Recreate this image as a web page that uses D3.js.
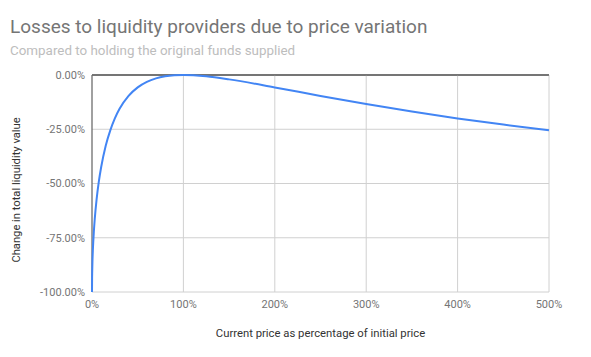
<!DOCTYPE html>
<html><head><meta charset="utf-8">
<script src="https://cdn.jsdelivr.net/npm/d3@7"></script>
<style>body{margin:0;background:#fff;}svg{display:block;font-family:Roboto,Arial,sans-serif;}</style>
</head><body>
<svg id="c" width="591" height="357"></svg>
<script>
const title = "Losses to liquidity providers due to price variation";
const subtitle = "Compared to holding the original funds supplied";
const xTitle = "Current price as percentage of initial price";
const yTitle = "Change in total liquidity value";
const xTicks = [0, 100, 200, 300, 400, 500];
const yTicks = [0, -25, -50, -75, -100];
const priceRatio = [0, 0.1, 0.2, 0.5, 1, 2, 3, 5, 7.5, 10, 15, 20, 25, 30, 40, 50, 60, 70, 80, 90, 100, 125, 150, 200, 250, 300, 350, 400, 450, 500];
const valueChange = [-100, -93.7, -91.1, -85.9, -80.2, -72.3, -66.4, -57.4, -49.0, -42.5, -32.6, -25.5, -20.0, -15.7, -9.65, -5.72, -3.18, -1.57, -0.62, -0.14, 0, -0.62, -2.02, -5.72, -9.65, -13.4, -16.85, -20.0, -22.86, -25.46];

const svg = d3.select("#c");
const m = {l: 92, r: 549, t: 75, b: 292};
const x = d3.scaleLinear().domain([0, 500]).range([m.l, m.r]);
const y = d3.scaleLinear().domain([-100, 0]).range([m.b, m.t]);

svg.append("text").attr("x", 10).attr("y", 33).attr("font-size", 19).attr("fill", "#757575").text(title);
svg.append("text").attr("x", 10).attr("y", 55).attr("font-size", 13.4).attr("fill", "#bdbdbd").text(subtitle);

// grid
const g = svg.append("g");
g.selectAll("line.h").data(yTicks).enter().append("line")
  .attr("x1", m.l).attr("x2", m.r).attr("y1", d => y(d)).attr("y2", d => y(d))
  .attr("stroke", d => d === 0 ? "#6d6d6d" : "#d0d0d0").attr("stroke-width", d => d===0?1.3:1);
g.selectAll("line.v").data(xTicks).enter().append("line")
  .attr("y1", m.t).attr("y2", m.b).attr("x1", d => x(d)).attr("x2", d => x(d))
  .attr("stroke", d => d === 0 ? "#6d6d6d" : "#d0d0d0").attr("stroke-width", d => d===0?1.3:1);

g.append("line").attr("x1", m.l).attr("x2", m.r).attr("y1", y(0)).attr("y2", y(0)).attr("stroke", "#6d6d6d").attr("stroke-width", 1.3);

svg.append("g").selectAll("text").data(yTicks).enter().append("text")
  .attr("x", 85).attr("y", d => y(d)).attr("dy", "0.35em").attr("text-anchor", "end")
  .attr("font-size", 11).attr("fill", "#757575").text(d => d.toFixed(2) + "%");
svg.append("g").selectAll("text").data(xTicks).enter().append("text")
  .attr("x", d => x(d)).attr("y", 308).attr("text-anchor", "middle")
  .attr("font-size", 11).attr("fill", "#757575").text(d => d + "%");

svg.append("text").attr("x", 320.5).attr("y", 337).attr("text-anchor", "middle")
  .attr("font-size", 11.3).attr("fill", "#333").text(xTitle);
svg.append("text").attr("transform", `translate(19.5,190) rotate(-90)`).attr("text-anchor", "middle")
  .attr("font-size", 11.2).attr("fill", "#333").text(yTitle);

const data = priceRatio.map((p, i) => [p, valueChange[i]]);
svg.append("path").datum(data)
  .attr("fill", "none").attr("stroke", "#4285f4").attr("stroke-width", 2)
  .attr("d", d3.line().x(d => x(d[0])).y(d => y(d[1])).curve(d3.curveMonotoneX));
</script>
</body></html>
